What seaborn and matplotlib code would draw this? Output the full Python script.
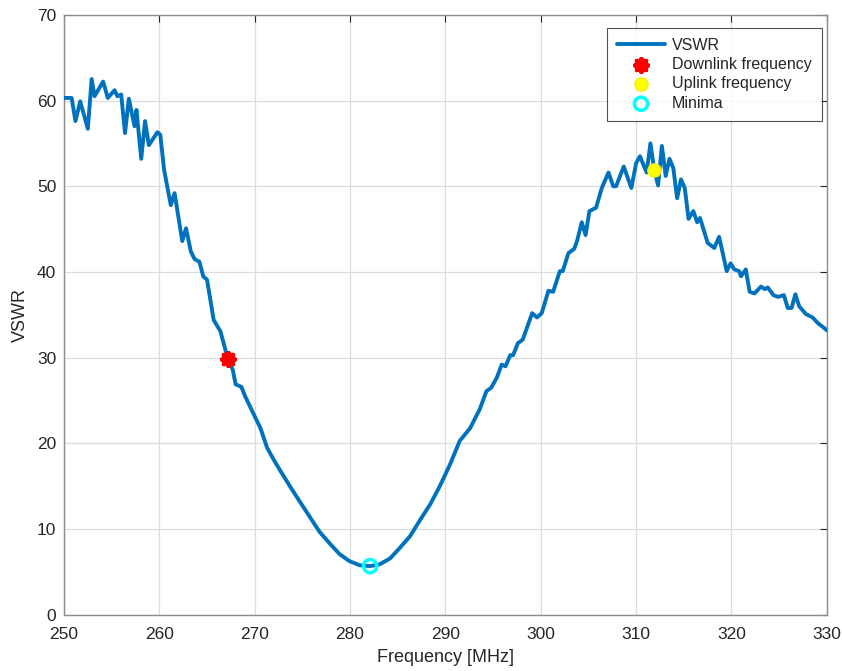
import matplotlib
matplotlib.use("Agg")
import matplotlib.pyplot as plt
import seaborn as sns
import pandas as pd

# Measured VSWR sweep
freq_mhz = [
    250.0, 250.8, 251.2, 251.7, 252.5, 252.9, 253.2, 254.1, 254.6, 255.3,
    255.6, 256.0, 256.4, 256.8, 257.4, 257.6, 258.1, 258.5, 258.9, 259.5,
    259.8, 260.1, 260.5, 261.2, 261.6, 262.4, 262.8, 263.3, 263.7, 264.2,
    264.6, 265.0, 265.7, 266.4, 267.2, 267.7, 268.0, 268.6, 269.0, 269.9,
    270.6, 271.3, 272.0, 272.7, 273.7, 274.8, 275.8, 276.8, 277.9, 278.9,
    279.9, 281.0, 282.1, 283.1, 284.2, 285.2, 286.3, 287.3, 288.4, 289.4,
    290.5, 291.5, 292.6, 293.6, 294.3, 294.8, 295.4, 295.9, 296.3, 296.8,
    297.1, 297.6, 298.1, 299.1, 299.6, 300.1, 300.8, 301.3, 302.0, 302.3,
    302.9, 303.5, 303.8, 304.3, 304.7, 305.1, 305.8, 306.4, 307.1, 307.6,
    307.9, 308.7, 309.5, 310.0, 310.4, 311.1, 311.5, 311.9, 312.3, 312.7,
    313.1, 313.5, 313.9, 314.3, 314.7, 315.1, 315.5, 316.0, 316.4, 316.7,
    317.5, 318.2, 318.7, 319.5, 319.9, 320.3, 320.8, 321.0, 321.5, 321.9,
    322.4, 323.1, 323.5, 323.8, 324.4, 324.9, 325.5, 325.9, 326.3, 326.7,
    327.1, 327.8, 328.5, 329.1, 329.8, 330.0,
]
vswr = [
    60.3, 60.3, 57.6, 59.9, 56.7, 62.5, 60.5, 62.2, 60.3, 61.2,
    60.5, 60.7, 56.2, 60.2, 57.0, 58.9, 53.2, 57.6, 54.8, 55.8,
    56.3, 56.0, 51.9, 47.8, 49.2, 43.6, 45.1, 42.4, 41.5, 41.2,
    39.5, 39.1, 34.4, 33.1, 29.8, 28.6, 26.9, 26.6, 25.5, 23.4,
    21.8, 19.5, 18.1, 16.8, 15.0, 13.1, 11.4, 9.7, 8.3, 7.1,
    6.3, 5.8, 5.7, 5.9, 6.6, 7.8, 9.2, 11.0, 12.9, 15.0,
    17.6, 20.3, 21.8, 24.0, 26.1, 26.5, 27.7, 29.2, 29.0, 30.3,
    30.3, 31.7, 32.1, 35.2, 34.7, 35.2, 37.8, 37.7, 40.1, 40.1,
    42.2, 42.7, 43.6, 45.8, 44.3, 47.1, 47.5, 49.8, 51.6, 50.0,
    50.0, 52.3, 49.8, 52.7, 53.5, 51.6, 55.0, 51.9, 50.1, 54.7,
    51.2, 53.2, 52.1, 48.6, 50.8, 49.8, 46.2, 47.1, 45.8, 46.3,
    43.4, 42.8, 44.1, 40.1, 41.0, 40.3, 40.1, 39.5, 40.3, 37.7,
    37.5, 38.3, 38.0, 38.2, 37.3, 37.1, 37.3, 35.8, 35.8, 37.4,
    36.0, 35.1, 34.7, 34.0, 33.4, 33.2,
]

# Highlighted points
downlink = (267.2, 29.8)
uplink = (311.9, 51.9)
minimum = (282.1, 5.7)

x_ticks = [250, 260, 270, 280, 290, 300, 310, 320, 330]
y_ticks = [0, 10, 20, 30, 40, 50, 60, 70]

sns.set_style("white")
plt.rcParams["font.family"] = ["Liberation Sans", "DejaVu Sans"]

fig = plt.figure(figsize=(8.42, 6.71), dpi=100)
ax = fig.add_axes([0.076, 0.0835, 0.906, 0.8945])

df = pd.DataFrame({"f": freq_mhz, "v": vswr})
sns.lineplot(data=df, x="f", y="v", ax=ax, color="#0072BD", linewidth=2.8,
             label="VSWR", zorder=3)

sns.scatterplot(x=[downlink[0]], y=[downlink[1]], ax=ax, marker=(8, 2, 0),
                s=85, color="#FF0000", linewidth=3.2,
                label="Downlink frequency", zorder=4)
sns.scatterplot(x=[uplink[0]], y=[uplink[1]], ax=ax, marker="o",
                s=90, color="#FFFF00", edgecolor="#F2F200", linewidth=1,
                label="Uplink frequency", zorder=4)
sns.scatterplot(x=[minimum[0]], y=[minimum[1]], ax=ax, marker="o",
                s=90, facecolor="none", edgecolor="#00FFFF", linewidth=2.5,
                label="Minima", zorder=4)

ax.set_xlim(250, 330)
ax.set_ylim(0, 70)
ax.set_xticks(x_ticks)
ax.set_yticks(y_ticks)
ax.grid(True, color="#DDDDDD", linewidth=0.9)
ax.set_axisbelow(True)
ax.tick_params(axis="both", direction="in", length=5, width=0.8,
               labelsize=12.5, colors="#262626", top=True, right=True,
               labeltop=False, labelright=False)
ax.tick_params(axis="x", pad=9)
ax.tick_params(axis="y", pad=5.5)
for s in ax.spines.values():
    s.set_color("#8C8C8C")
    s.set_linewidth(1.0)
ax.set_xlabel("Frequency [MHz]", fontsize=13, color="#262626", labelpad=5)
ax.set_ylabel("VSWR", fontsize=13, color="#262626", labelpad=6)

leg = ax.legend(loc="upper right", bbox_to_anchor=(0.993, 0.978),
                fontsize=11.5, frameon=True, fancybox=False,
                handlelength=3.0, borderpad=0.6, labelspacing=0.28,
                handletextpad=0.45, borderaxespad=0.0)
leg.get_frame().set_edgecolor("#262626")
leg.get_frame().set_linewidth(0.8)

fig.savefig("out.png", dpi=100)
